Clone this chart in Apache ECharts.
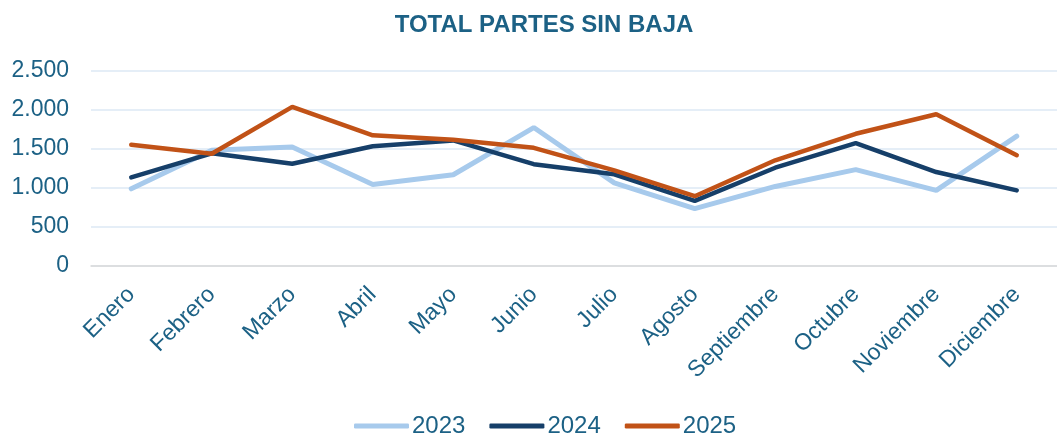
<!DOCTYPE html>
<html>
<head>
<meta charset="utf-8">
<script src="https://cdn.jsdelivr.net/npm/echarts@6/dist/echarts.min.js"></script>
<style>
  html, body { margin: 0; padding: 0; background: #fff; }
  #chart { width: 1057px; height: 438px; }
</style>
</head>
<body>
<div id="chart"></div>
<script>
// meses
var meses = ["Enero", "Febrero", "Marzo", "Abril", "Mayo", "Junio", "Julio", "Agosto", "Septiembre", "Octubre", "Noviembre", "Diciembre"];
// partes por año
var partes2023 = [990, 1485, 1525, 1045, 1170, 1775, 1065, 735, 1020, 1235, 970, 1665];
var partes2024 = [1135, 1445, 1310, 1535, 1610, 1305, 1175, 835, 1260, 1575, 1205, 970];
var partes2025 = [1555, 1440, 2040, 1675, 1620, 1515, 1225, 895, 1355, 1695, 1945, 1420];

var azul = "#1C6185";
var fuente = "Liberation Sans, Arial, sans-serif";

var myChart = echarts.init(document.getElementById("chart"));

function miles(v) {
  return String(v).replace(/\B(?=(\d{3})+(?!\d))/g, ".");
}

var option = {
  animation: false,
  title: {
    text: "TOTAL PARTES SIN BAJA",
    left: 539,
    top: 8,
    textAlign: "center",
    textStyle: { color: azul, fontSize: 24, fontWeight: "bold", fontFamily: fuente }
  },
  legend: {
    top: 409,
    left: 349,
    itemWidth: 55,
    itemHeight: 5,
    itemGap: 24,
    icon: "roundRect",
    textStyle: { color: azul, fontSize: 24, fontFamily: fuente, padding: [0, 0, 0, -2] },
    data: ["2023", "2024", "2025"]
  },
  grid: { left: 91, top: 71, width: 971, height: 195, containLabel: false },
  xAxis: {
    type: "category",
    data: meses,
    boundaryGap: true,
    axisLine: { lineStyle: { color: "#D9D9D9", width: 1.5 } },
    axisTick: { show: false },
    axisLabel: { rotate: 45, margin: 25, color: azul, fontSize: 23, fontFamily: fuente, interval: 0 }
  },
  yAxis: {
    type: "value",
    min: 0,
    max: 2500,
    interval: 500,
    axisLine: { show: false },
    axisTick: { show: false },
    splitLine: { lineStyle: { color: "#DDE8F5", width: 1.5 } },
    axisLabel: { color: azul, fontSize: 23, margin: 22, fontFamily: fuente, formatter: miles }
  },
  series: [
    {
      name: "2023", type: "line", data: partes2023, symbol: "none",
      itemStyle: { color: "#A7CAEC" },
      lineStyle: { color: "#A7CAEC", width: 5, cap: "round" }
    },
    {
      name: "2024", type: "line", data: partes2024, symbol: "none",
      itemStyle: { color: "#163F69" },
      lineStyle: { color: "#163F69", width: 4.5, cap: "round" }
    },
    {
      name: "2025", type: "line", data: partes2025, symbol: "none",
      itemStyle: { color: "#C15217" },
      lineStyle: { color: "#C15217", width: 4.5, cap: "round" }
    }
  ]
};

myChart.setOption(option);
</script>
</body>
</html>
